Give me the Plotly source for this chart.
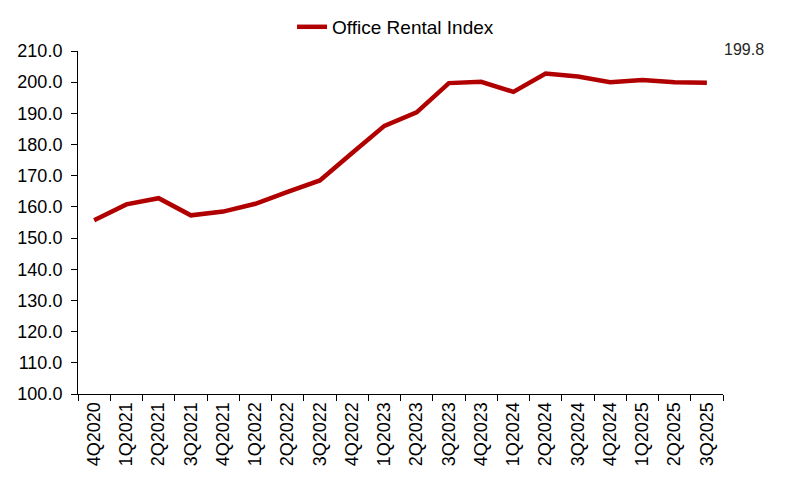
import plotly.graph_objects as go

quarters = ["4Q2020", "1Q2021", "2Q2021", "3Q2021", "4Q2021", "1Q2022", "2Q2022",
            "3Q2022", "4Q2022", "1Q2023", "2Q2023", "3Q2023", "4Q2023", "1Q2024",
            "2Q2024", "3Q2024", "4Q2024", "1Q2025", "2Q2025", "3Q2025"]
office_rental_index = [155.7, 160.8, 162.8, 157.3, 158.5, 161.0, 164.8, 168.5, 177.3,
                       186.0, 190.3, 199.7, 200.1, 196.9, 202.8, 201.8, 200.0, 200.7,
                       200.0, 199.8]
series_name = "Office Rental Index"

FONT = "Arial, Liberation Sans, sans-serif"

fig = go.Figure()
fig.add_trace(go.Scatter(
    x=quarters, y=office_rental_index, mode="lines", name=series_name,
    line=dict(color="#B00000", width=4.5), showlegend=True,
))

fig.add_annotation(
    x=quarters[-1], y=office_rental_index[-1], xref="x", yref="y",
    text=f"{office_rental_index[-1]:.1f}", showarrow=False,
    xshift=37, yshift=33, font=dict(family=FONT, size=16, color="#262626"),
)

fig.update_layout(
    width=799, height=499,
    margin=dict(l=78, r=76, t=51, b=105, autoexpand=False),
    paper_bgcolor="white", plot_bgcolor="white",
    font=dict(family=FONT, size=18, color="black"),
    showlegend=True,
    legend=dict(orientation="h", xref="container", yref="container",
                x=0.3655, xanchor="left", y=0.946, yanchor="middle",
                font=dict(family=FONT, size=19, color="black"),
                bgcolor="rgba(0,0,0,0)"),
    xaxis=dict(
        type="category", showgrid=False, zeroline=False,
        showline=True, linecolor="black", linewidth=1,
        ticks="outside", ticklen=6, tickcolor="black", tickson="boundaries",
        tickangle=-90, tickfont=dict(family=FONT, size=18, color="black"),
        range=[-0.5, len(quarters) - 0.5],
    ),
    yaxis=dict(
        range=[100, 210], dtick=10, tick0=100, tickformat=".1f",
        showgrid=False, zeroline=False,
        showline=True, linecolor="black", linewidth=1,
        ticks="outside", ticklen=6, tickcolor="black",
        tickfont=dict(family=FONT, size=18, color="black"),
        ticklabelstandoff=5,
    ),
)

fig.write_html("out.html")
